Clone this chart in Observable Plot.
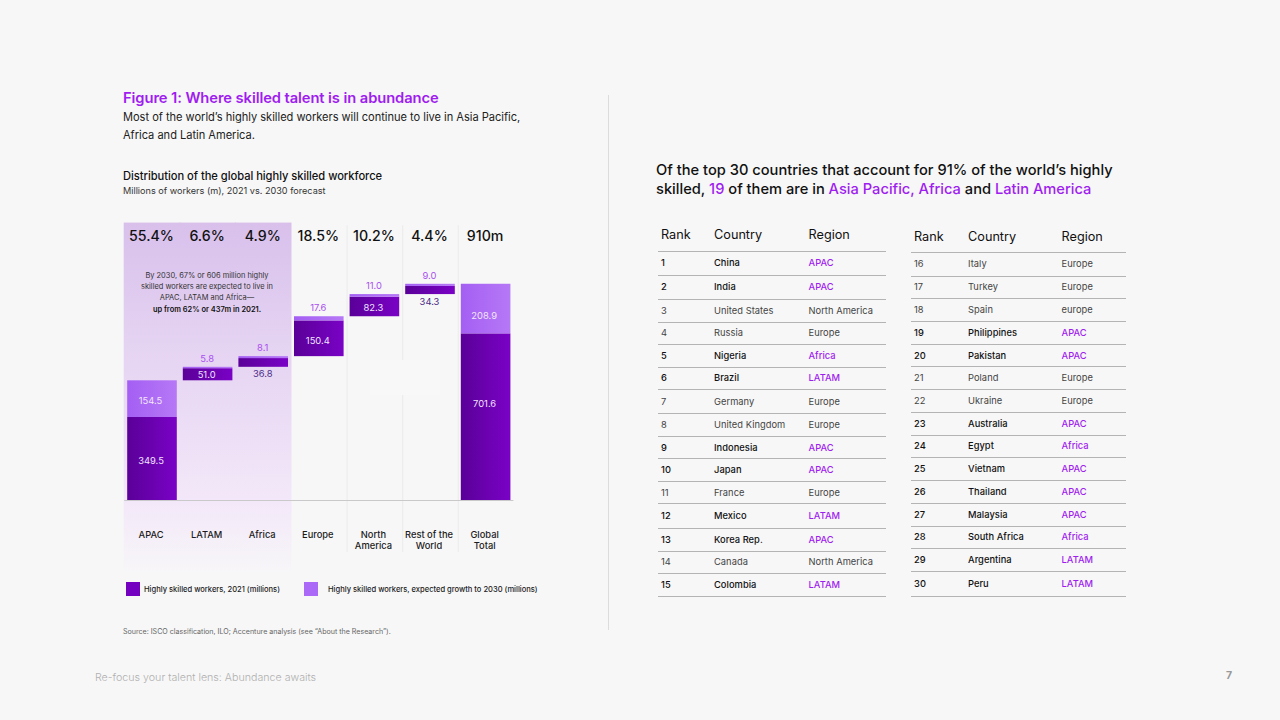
<!DOCTYPE html>
<html><head><meta charset="utf-8">
<script src="https://cdn.jsdelivr.net/npm/d3@7"></script>
<script src="https://cdn.jsdelivr.net/npm/@observablehq/plot@0.6"></script>
<style>
html,body{margin:0;padding:0;background:#f7f7f7;}
body{width:1280px;height:720px;position:relative;overflow:hidden;font-family:Inter,"Noto Sans",sans-serif;color:#111;}
.a{position:absolute;white-space:nowrap;}
.p{color:#a01df0;}
.cell{transform:translateY(-50%);margin-top:-1px;font-size:9.3px;letter-spacing:.05px;}
.head{transform:translateY(-50%);font-size:12.7px;font-weight:400;color:#111;}
.hl{font-weight:500;color:#111;}
.pl{color:#444;}
.hlr{font-weight:500;color:#a01df0;}
.rule{position:absolute;height:1px;background:#b4b4b4;}
</style></head><body>
<div id="root"></div>
<script>
// ---- chart data ----
const categories = ["APAC","LATAM","Africa","Europe","North\nAmerica","Rest of the\nWorld","Global\nTotal"];
const workers2021 = [349.5,51.0,36.8,150.4,82.3,34.3,701.6];
const growth2030 = [154.5,5.8,8.1,17.6,11.0,9.0,208.9];
const shares = ["55.4%","6.6%","4.9%","18.5%","10.2%","4.4%","910m"];
const highlightCats = ["APAC","LATAM","Africa"];
const separatorCats = ["North\nAmerica","Rest of the\nWorld","Global\nTotal"];

// ---- table data ----
const ranksA = [1,2,3,4,5,6,7,8,9,10,11,12,13,14,15];
const countriesA = ["China","India","United States","Russia","Nigeria","Brazil","Germany","United Kingdom","Indonesia","Japan","France","Mexico","Korea Rep.","Canada","Colombia"];
const regionsA = ["APAC","APAC","North America","Europe","Africa","LATAM","Europe","Europe","APAC","APAC","Europe","LATAM","APAC","North America","LATAM"];
const ranksB = [16,17,18,19,20,21,22,23,24,25,26,27,28,29,30];
const countriesB = ["Italy","Turkey","Spain","Philippines","Pakistan","Poland","Ukraine","Australia","Egypt","Vietnam","Thailand","Malaysia","South Africa","Argentina","Peru"];
const regionsB = ["Europe","Europe","europe","APAC","APAC","Europe","Europe","APAC","Africa","APAC","APAC","APAC","Africa","LATAM","LATAM"];
const headers = ["Rank","Country","Region"];

// ---- layout (pixels, not data) ----
const layoutA = {xs:[661,714,808.5], ruleX:658, ruleW:228, headY:234, headRule:251,
  textY:[263,286.5,311,333,356,378,402,425,448,470,493,516,540,562,585],
  ruleY:[275,299,322,344,367,389,413,436,458,481,503,528,551,573,596]};
const layoutB = {xs:[914,968,1061.5], ruleX:911, ruleW:215, headY:236, headRule:252,
  textY:[264,287,310,333,356,378,401,424,446,469,492,515,537,560,584],
  ruleY:[276,298,321,344,366,389,412,435,457,480,503,526,548,571,596]};

const root = d3.select("#root");
function put(x,y,html,style){
  return root.append("div").attr("class","a").style("left",x+"px").style("top",y+"px").attr("style",function(){return this.getAttribute("style")+";"+(style||"")}).html(html);
}

// header texts
put(123,88,'Figure 1: Where skilled talent is in abundance','font-size:14.75px;font-weight:600;color:#a01df0;line-height:20px;letter-spacing:-.1px');
put(123,108,'Most of the world’s highly skilled workers will continue to live in Asia Pacific,<br>Africa and Latin America.','font-size:11.09px;line-height:18px;color:#222;letter-spacing:-.02px');
put(123,167.5,'Distribution of the global highly skilled workforce','font-size:11.15px;font-weight:500;line-height:16px;letter-spacing:-.03px');
put(123,184,'Millions of workers (m), 2021 vs. 2030 forecast','font-size:9.12px;line-height:13px;color:#333');
put(656,161,'Of the top 30 countries that account for 91% of the world’s highly<br>skilled, <span class="p">19</span> of them are in <span class="p">Asia Pacific, Africa</span> and <span class="p">Latin America</span>','font-size:14.67px;font-weight:500;line-height:19px;');
root.append("div").attr("class","a").style("left","608px").style("top","95px").style("width","1px").style("height","535px").style("background","#dcdcdc");

// waterfall geometry derived from the values
let running = 0;
const rows = categories.map((category,i)=>{
  const base = i===categories.length-1 ? 0 : running;
  const mid = base+workers2021[i], top = mid+growth2030[i];
  if(i<categories.length-1) running = top;
  return {category,base,mid,top,w:workers2021[i],g:growth2030[i],share:shares[i]};
});
const num = v=>v.toFixed(1);

// value label style per category: where each label sits relative to its bar
const darkOutside = new Set(["Africa","Rest of the\nWorld"]);
const lightOutside = new Set(["LATAM","Africa","Europe","North\nAmerica","Rest of the\nWorld"]);
const darkNudge = {"APAC":2,"LATAM":0,"Europe":2,"North\nAmerica":1,"Global\nTotal":-13};
const lightNudge = {"APAC":2,"Global\nTotal":7};

const defs = () => {
  const d = d3.create("svg:defs");
  const grad=(id,x2,y2,stops)=>{
    const g=d.append("linearGradient").attr("id",id).attr("x1",0).attr("y1",0).attr("x2",x2).attr("y2",y2);
    stops.forEach(([o,c])=>g.append("stop").attr("offset",o).attr("stop-color",c));
  };
  grad("dark",1,0,[[0,"#5a0098"],[1,"#7a02c6"]]);
  grad("light",1,0,[[0,"#a45ff3"],[1,"#b678f6"]]);
  grad("panel",0,1,[[0,"#d8c0eb"],[.35,"#e5d3f2"],[.8,"#f3e8f9"],[1,"#f7f6f8"]]);
  return d.node();
};

const fontFamily = 'Inter,"Noto Sans",sans-serif';
const chart = Plot.plot({
  width:430, height:365, marginLeft:14.2, marginRight:26.6, marginTop:0, marginBottom:80,
  style:{fontFamily, background:"transparent", position:"absolute", left:"110px", top:"215px", overflow:"visible"},
  x:{domain:categories, padding:0, round:false},
  y:{domain:[0,1200], range:[285,0], axis:null},
  marks:[
    defs,
    Plot.barY(highlightCats,{x:d=>d, y1:-303, y2:1166, fill:"url(#panel)", inset:-0.5}),
    Plot.ruleX(separatorCats,{x:d=>d, y1:-219, y2:1157, stroke:"#ebebeb", strokeWidth:1, dx:-27.8}),
    Plot.ruleY([0],{stroke:"#c9c9c9", strokeWidth:1}),
    Plot.barY(rows,{x:"category", y1:"base", y2:"mid", fill:"url(#dark)", insetLeft:3, insetRight:3}),
    Plot.barY(rows,{x:"category", y1:"mid", y2:"top", fill:"url(#light)", insetLeft:3, insetRight:3}),
    Plot.text(rows,{x:"category", y:1111, text:"share", fontSize:14.2, fontWeight:500, fill:"#111", dx:-1}),
    // dark-bar value labels
    ...rows.filter(r=>!darkOutside.has(r.category)).map(r=>Plot.text([r],{x:"category", y:d=>d.base+d.w/2, text:d=>num(d.w), fill:"#f1e4fb", fontSize:9.4, dx:-1.5, dy:darkNudge[r.category]||0})),
    Plot.text(rows.filter(r=>darkOutside.has(r.category)),{x:"category", y:"base", text:d=>num(d.w), fill:"#4b2b86", fontSize:9.4, dx:-1, dy:7}),
    // light-bar value labels
    ...rows.filter(r=>!lightOutside.has(r.category)).map(r=>Plot.text([r],{x:"category", y:d=>d.mid+d.g/2, text:d=>num(d.g), fill:"#f3e6ff", fontSize:9.4, dx:-2, dy:lightNudge[r.category]||0})),
    Plot.text(rows.filter(r=>lightOutside.has(r.category)),{x:"category", y:"top", text:d=>num(d.g), fill:"#a94ff0", fontSize:9.4, dx:-1, dy:-8.5}),
    Plot.axisX({anchor:"bottom", tickSize:0, tickPadding:30, label:null, fontSize:9.3, fontWeight:500, fill:"#1c1c1c", lineHeight:1.15, lineAnchor:"top", dx:-1.5})
  ]
});
document.getElementById("root").appendChild(chart);

// faint pale patch present in the source picture
root.append("div").attr("class","a").style("left","370px").style("top","360px").style("width","70px").style("height","35px").style("background","#f8f8f8");

// callout inside the highlight panel
put(124,269.5,'By 2030, 67% or 606 million highly<br>skilled workers are expected to live in<br>APAC, LATAM and Africa—<br><b style="font-weight:600;color:#111">up from 62% or 437m in 2021.</b>','width:166px;text-align:center;font-size:7.45px;line-height:11.4px;color:#333');

// legend
[[126,"#7400c0",144,"Highly skilled workers, 2021 (millions)"],[304,"#ab69f8",328,"Highly skilled workers, expected growth to 2030 (millions)"]].forEach(([sx,c,tx,t])=>{
  root.append("div").attr("class","a").style("left",sx+"px").style("top","582px").style("width","14px").style("height","14px").style("background",c);
  put(tx,583,t,'font-size:7.56px;font-weight:500;line-height:13px;color:#222');
});
put(123,625.5,'Source: ISCO classification, ILO; Accenture analysis (see “About the Research”).','font-size:7.08px;line-height:12px;color:#666');
put(95,671,'Re-focus your talent lens: Abundance awaits','font-size:10.66px;line-height:14px;color:#b0b0b0;font-weight:300');
put(1226,669,'7','font-size:10.5px;line-height:13px;color:#999;font-weight:700');

// tables
function table(L,ranks,countries,regions){
  headers.forEach((h,i)=>put(L.xs[i],L.headY,h,'').attr("class","a head"));
  root.append("div").attr("class","rule").style("left",L.ruleX+"px").style("top",L.headRule+"px").style("width",L.ruleW+"px");
  ranks.forEach((r,i)=>{
    const highlighted = highlightCats.includes(regions[i]);
    put(L.xs[0],L.textY[i],r,'').attr("class","a cell "+(highlighted?"hl":"pl"));
    put(L.xs[1],L.textY[i],countries[i],'').attr("class","a cell "+(highlighted?"hl":"pl"));
    put(L.xs[2],L.textY[i],regions[i],'').attr("class","a cell "+(highlighted?"hlr":"pl"));
    root.append("div").attr("class","rule").style("left",L.ruleX+"px").style("top",L.ruleY[i]+"px").style("width",L.ruleW+"px");
  });
}
table(layoutA,ranksA,countriesA,regionsA);
table(layoutB,ranksB,countriesB,regionsB);
</script></body></html>
